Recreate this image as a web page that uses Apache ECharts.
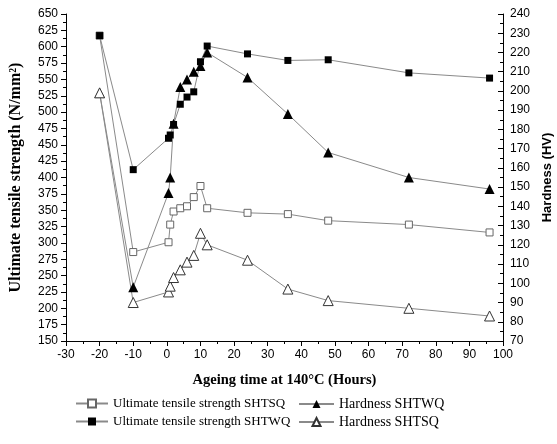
<!DOCTYPE html>
<html>
<head>
<meta charset="utf-8">
<script src="https://cdn.jsdelivr.net/npm/echarts@6/dist/echarts.min.js"></script>
<style>
  html, body { margin: 0; padding: 0; background: #fff; }
  #main { width: 557px; height: 444px; }
</style>
</head>
<body>
<div id="main"></div>
<script>
// ageing time (hours), -20 and -10 are the pre-ageing states
var times = [-20, -10, 0.5, 1, 2, 4, 6, 8, 10, 12, 24, 36, 48, 72, 96];
var utsSHTSQ = [617, 286, 301, 328, 348, 353, 356, 370, 387, 353, 346, 344, 334, 328, 316];
var utsSHTWQ = [617, 412, 460, 465, 481, 512, 523, 531, 577, 601, 589, 579, 580, 560, 552];
var hvSHTWQ = [199, 98, 147, 155, 183, 202, 206, 210, 213, 220, 207, 188, 168, 155, 149];
var hvSHTSQ = [199, 90, 95.5, 98.5, 103, 107, 111, 114.5, 126, 120, 112, 97, 91, 87, 83];

function pairs(ys) {
  return times.map(function (t, i) { return [t, ys[i]]; });
}

var chart = echarts.init(document.getElementById('main'));

var tickFont = { color: '#000', fontSize: 12, fontFamily: 'Liberation Sans' };
var lineGray = { color: '#8a8a8a', width: 1 };

option = {
  backgroundColor: '#fff',
  animation: false,
  grid: { left: 66, right: 54, top: 14, bottom: 103, outerBoundsMode: 'none' },
  legend: [
    {
      left: 75, top: 397, orient: 'vertical', itemGap: 5, padding: 0,
      itemWidth: 32, itemHeight: 10,
      textStyle: { fontFamily: 'Liberation Serif', fontSize: 13, color: '#000' },
      data: ['Ultimate tensile strength SHTSQ', 'Ultimate tensile strength SHTWQ']
    },
    {
      left: 298, top: 397, orient: 'vertical', itemGap: 4, padding: 0,
      itemWidth: 35, itemHeight: 10,
      textStyle: { fontFamily: 'Liberation Serif', fontSize: 14, color: '#000' },
      data: ['Hardness SHTWQ', 'Hardness SHTSQ']
    }
  ],
  xAxis: {
    type: 'value', min: -30, max: 100, interval: 10,
    name: 'Ageing time at 140°C (Hours)',
    nameLocation: 'middle', nameGap: 32,
    nameTextStyle: { fontFamily: 'Liberation Serif', fontWeight: 'bold', fontSize: 14.5, color: '#000' },
    axisLine: { onZero: false, lineStyle: { color: '#000' } },
    axisTick: { inside: false, length: 5, lineStyle: { color: '#000' } },
    minorTick: { show: true, splitNumber: 2, length: 3, lineStyle: { color: '#000' } },
    axisLabel: tickFont,
    splitLine: { show: false }
  },
  yAxis: [
    {
      type: 'value', min: 150, max: 650, interval: 25,
      name: 'Ultimate tensile strength (N/mm²)',
      nameLocation: 'middle', nameGap: 42, nameRotate: 90,
      nameTextStyle: { fontFamily: 'Liberation Serif', fontWeight: 'bold', fontSize: 16, color: '#000' },
      axisLine: { show: true, onZero: false, lineStyle: { color: '#000' } },
      axisTick: { show: true, inside: false, length: 5, lineStyle: { color: '#000' } },
      minorTick: { show: true, splitNumber: 2, length: 3, lineStyle: { color: '#000' } },
      axisLabel: tickFont,
      splitLine: { show: false }
    },
    {
      type: 'value', min: 70, max: 240, interval: 10, position: 'right',
      name: 'Hardness (HV)',
      nameLocation: 'middle', nameGap: 38, nameRotate: 90,
      nameTextStyle: { fontFamily: 'Liberation Sans', fontWeight: 'bold', fontSize: 13, color: '#000' },
      axisLine: { show: true, onZero: false, lineStyle: { color: '#000' } },
      axisTick: { show: true, inside: true, length: 5, lineStyle: { color: '#000' } },
      minorTick: { show: true, splitNumber: 2, length: 3, lineStyle: { color: '#000' } },
      axisLabel: { color: '#000', fontSize: 12, fontFamily: 'Liberation Sans', margin: 7 },
      splitLine: { show: false }
    }
  ],
  series: [
    {
      name: 'Ultimate tensile strength SHTSQ', type: 'line', yAxisIndex: 0,
      data: pairs(utsSHTSQ),
      symbol: 'rect', symbolSize: 7,
      itemStyle: { color: '#fff', borderColor: '#666', borderWidth: 1 },
      lineStyle: lineGray
    },
    {
      name: 'Hardness SHTWQ', type: 'line', yAxisIndex: 1,
      data: pairs(hvSHTWQ),
      symbol: 'triangle', symbolSize: 10,
      itemStyle: { color: '#000' },
      lineStyle: lineGray
    },
    {
      name: 'Ultimate tensile strength SHTWQ', type: 'line', yAxisIndex: 0,
      data: pairs(utsSHTWQ),
      symbol: 'rect', symbolSize: 7,
      itemStyle: { color: '#000' },
      lineStyle: lineGray
    },
    {
      name: 'Hardness SHTSQ', type: 'line', yAxisIndex: 1,
      data: pairs(hvSHTSQ),
      symbol: 'triangle', symbolSize: 10,
      itemStyle: { color: '#fff', borderColor: '#333', borderWidth: 1 },
      lineStyle: lineGray
    }
  ]
};

chart.setOption(option);
</script>
</body>
</html>
